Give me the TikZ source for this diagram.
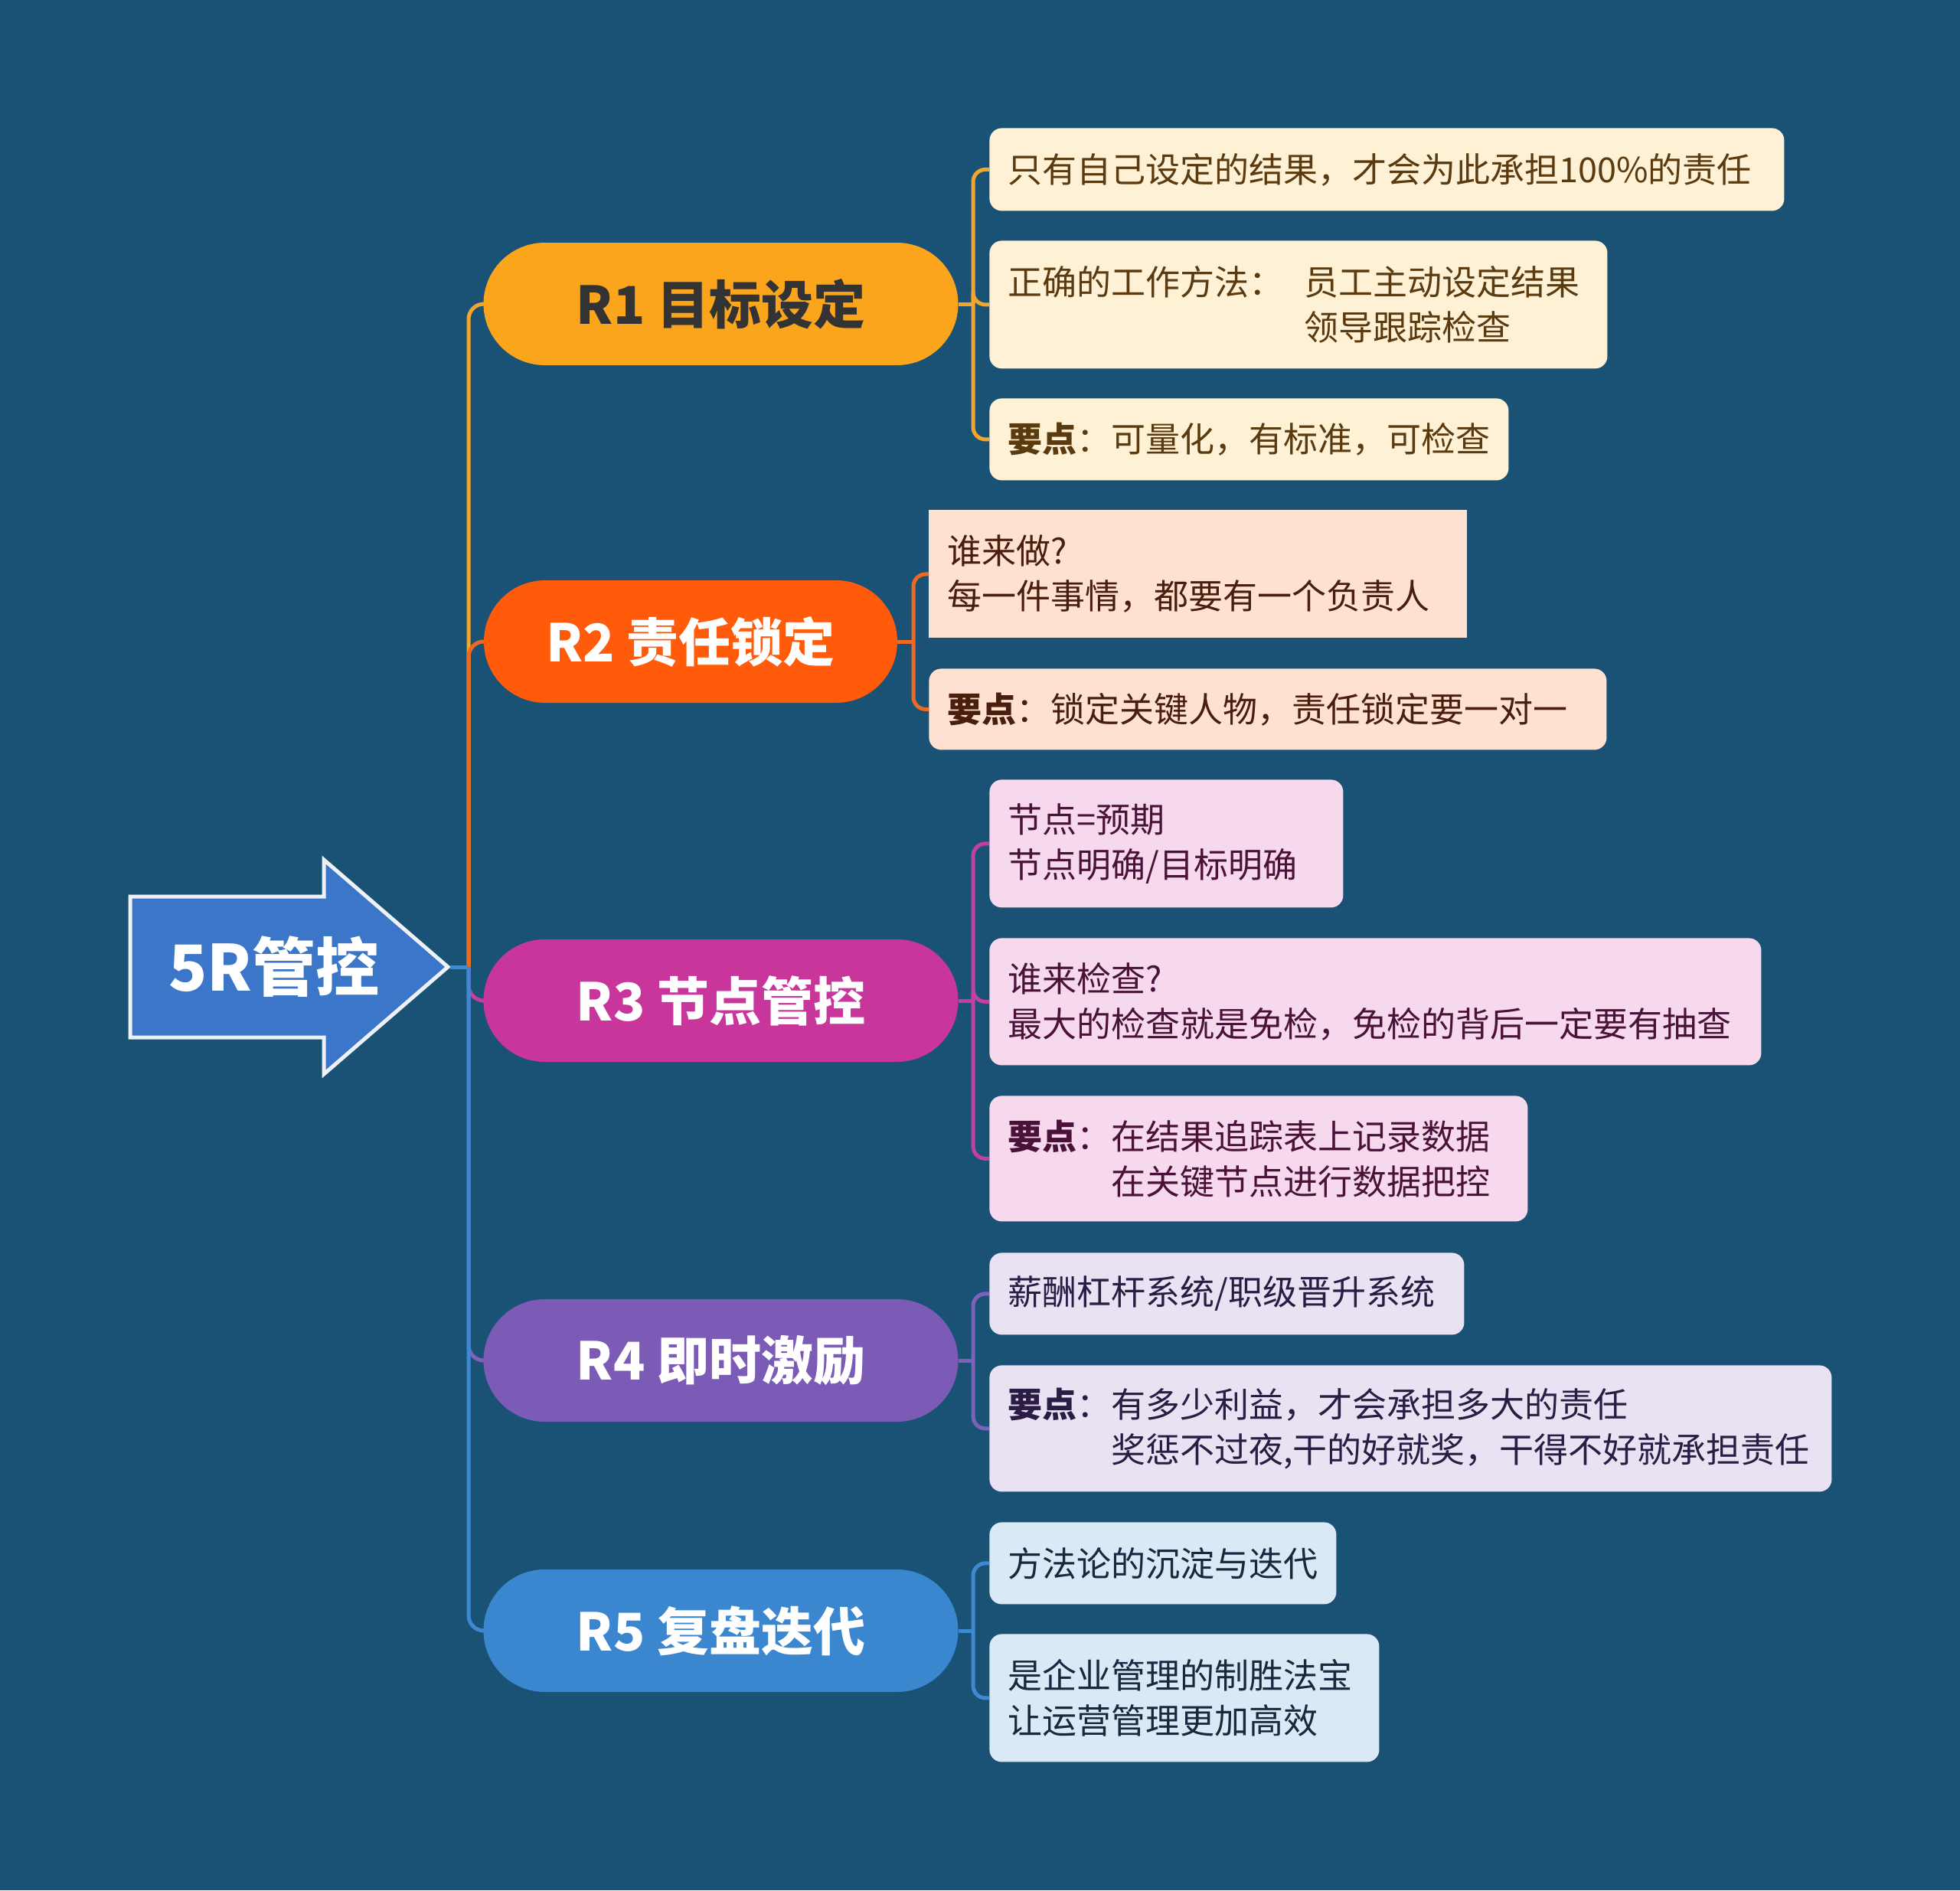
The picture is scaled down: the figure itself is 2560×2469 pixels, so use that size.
\documentclass[tikz,border=0pt]{standalone}
\usepackage{fontspec}
\setmainfont{Noto Sans CJK SC}
\definecolor{bg}{HTML}{1A5276}
\definecolor{arrowfill}{HTML}{3B76C9}
\definecolor{arrowedge}{HTML}{EEF2F6}
\definecolor{pA}{HTML}{FBA51D}\definecolor{lA}{HTML}{F4A62A}\definecolor{bA}{HTML}{FFF1D5}\definecolor{tA}{HTML}{5A3A0E}
\definecolor{pB}{HTML}{FF5B0B}\definecolor{lB}{HTML}{EE6A24}\definecolor{bB}{HTML}{FFE1D1}\definecolor{tB}{HTML}{4A1E0C}
\definecolor{pC}{HTML}{C8369B}\definecolor{lC}{HTML}{C43F9E}\definecolor{bC}{HTML}{F6D9EC}\definecolor{tC}{HTML}{4A1238}
\definecolor{pD}{HTML}{7C5BB7}\definecolor{lD}{HTML}{8060BB}\definecolor{bD}{HTML}{E8E2F2}\definecolor{tD}{HTML}{2A1C44}
\definecolor{pE}{HTML}{3A87D0}\definecolor{lE}{HTML}{3D8AD3}\definecolor{bE}{HTML}{DAE9F6}\definecolor{tE}{HTML}{17283F}
\definecolor{darktxt}{HTML}{333333}
\begin{document}
\begin{tikzpicture}[x=0.5pt,y=-0.5pt,
  pill/.style={rounded corners=40pt, minimum height=80pt, inner sep=0pt,
    font=\bfseries\fontsize{34pt}{40pt}\selectfont, text=white},
  kid/.style={anchor=north west, rounded corners=8pt, inner xsep=12pt, inner ysep=0pt,
    align=left, font=\fontsize{22.5pt}{29.5pt}\selectfont},
  ln/.style={line width=2.5pt},
  kidlink/.style={ln, rounded corners=8pt},
  trunkbend/.style={ln, rounded corners=10pt}]
% background
\fill[bg] (0,0) rectangle (2560,2469);

% root arrow
\draw[line width=2.5pt, draw=arrowedge, fill=arrowfill, line join=miter]
  (170,1171) -- (423,1171) -- (423,1123) -- (585,1263) -- (423,1403) -- (423,1355) -- (170,1355) -- cycle;
\node[font=\bfseries\fontsize{41.5pt}{48pt}\selectfont, text=white] (root) at (358,1263) {5R管控};
\coordinate (tip) at (588,1263);
\coordinate (tr) at (612,1263);

% main branches
\node[pill, fill=pA, text=darktxt, minimum width=310pt] (R1) at (941.5,397) {R1 目标设定};
\node[pill, fill=pB, minimum width=270pt] (R2) at (902,838) {R2 责任锁定};
\node[pill, fill=pC, minimum width=310pt] (R3) at (941.5,1307) {R3 节点管控};
\node[pill, fill=pD, minimum width=310pt] (R4) at (941.5,1777) {R4 即时激励};
\node[pill, fill=pE, minimum width=310pt] (R5) at (941.5,2130) {R5 复盘迭代};

% trunk connectors
\draw[trunkbend, lA] (tr) |- (R1.west);
\draw[trunkbend, lB] (tr) |- (R2.west);
\draw[trunkbend, lC] (tr) |- (R3.west);
\draw[trunkbend, lD] (tr) |- (R4.west);
\draw[trunkbend, lE] (tr) |- (R5.west);
\draw[ln, lE] (tip) -- (tr);

% R1 children
\node[kid, fill=bA, text=tA, text width=495pt, minimum height=54pt] (a1) at (1292,167)
  {只有自己设定的结果，才会为此承担100\%的责任};
\node[kid, fill=bA, text=tA, text width=379.5pt, minimum height=83.5pt] (a2) at (1292,314)
  {正确的工作方法：\hspace{0.6em}员工主动设定结果\\\hphantom{正确的工作方法：\hspace{0.6em}}领导跟踪检查};
\node[kid, fill=bA, text=tA, text width=315pt, minimum height=53.5pt] (a3) at (1292,520)
  {\textbf{要点}：可量化，有标准，可检查};
\coordinate (jA) at (1271,397);
\draw[ln, lA] (R1.east) -- (jA);
\draw[kidlink, lA] (jA) |- (a1.west);
\draw[kidlink, lA] (jA) |- (a2.west);
\draw[kidlink, lA] (jA) |- (a3.west);

% R2 children
\node[kid, sharp corners, fill=bB, text=tB, text width=327.5pt, minimum height=83.5pt] (b1) at (1213,666)
  {谁来做?\\每一件事情，都要有一个负责人};
\node[kid, fill=bB, text=tB, text width=418.5pt, minimum height=53pt] (b2) at (1213,873)
  {\textbf{要点}：锁定关键人物，责任锁定要一对一};
\coordinate (jB) at (1193,838);
\draw[ln, lB] (R2.east) -- (jB);
\draw[kidlink, lB] (jB) |- (b1.west);
\draw[kidlink, lB] (jB) |- (b2.west);

% R3 children
\node[kid, fill=bC, text=tC, text width=207pt, minimum height=83.5pt] (c1) at (1292,1018)
  {节点=预期\\节点明确/目标明确};
\node[kid, fill=bC, text=tC, text width=480pt, minimum height=83pt] (c2) at (1292,1225)
  {谁来检查?\\最大的检查就是免检，免检的背后一定要有抽查};
\node[kid, fill=bC, text=tC, text width=327.5pt, minimum height=82pt] (c3) at (1292,1431)
  {\textbf{要点}：在结果追踪表上记录数据\\\hphantom{\textbf{要点}：}在关键节点进行数据把控};
\coordinate (jC) at (1271,1307);
\draw[ln, lC] (R3.east) -- (jC);
\draw[kidlink, lC] (jC) |- (c1.west);
\draw[kidlink, lC] (jC) |- (c2.west);
\draw[kidlink, lC] (jC) |- (c3.west);

% R4 children
\node[kid, fill=bD, text=tD, text width=286pt, minimum height=53.5pt] (d1) at (1292,1636)
  {薪酬杠杆系统/职级晋升系统};
\node[kid, fill=bD, text=tD, text width=526pt, minimum height=82.5pt] (d2) at (1292,1783)
  {\textbf{要点}：有多少利益，才会承担多大的责任\\\hphantom{\textbf{要点}：}奖惩不过夜,干的好就奖，干得不好就承担责任};
\coordinate (jD) at (1271,1777);
\draw[ln, lD] (R4.east) -- (jD);
\draw[kidlink, lD] (jD) |- (d1.west);
\draw[kidlink, lD] (jD) |- (d2.west);

% R5 children
\node[kid, fill=bE, text=tE, text width=202.5pt, minimum height=53.5pt] (e1) at (1292,1988)
  {方法论的沉淀与迭代};
\node[kid, fill=bE, text=tE, text width=230.5pt, minimum height=83.5pt] (e2) at (1292,2134)
  {是企业管理的制胜法宝\\让运营管理更加高效};
\coordinate (jE) at (1271,2130);
\draw[ln, lE] (R5.east) -- (jE);
\draw[kidlink, lE] (jE) |- (e1.west);
\draw[kidlink, lE] (jE) |- (e2.west);
\end{tikzpicture}
\end{document}
